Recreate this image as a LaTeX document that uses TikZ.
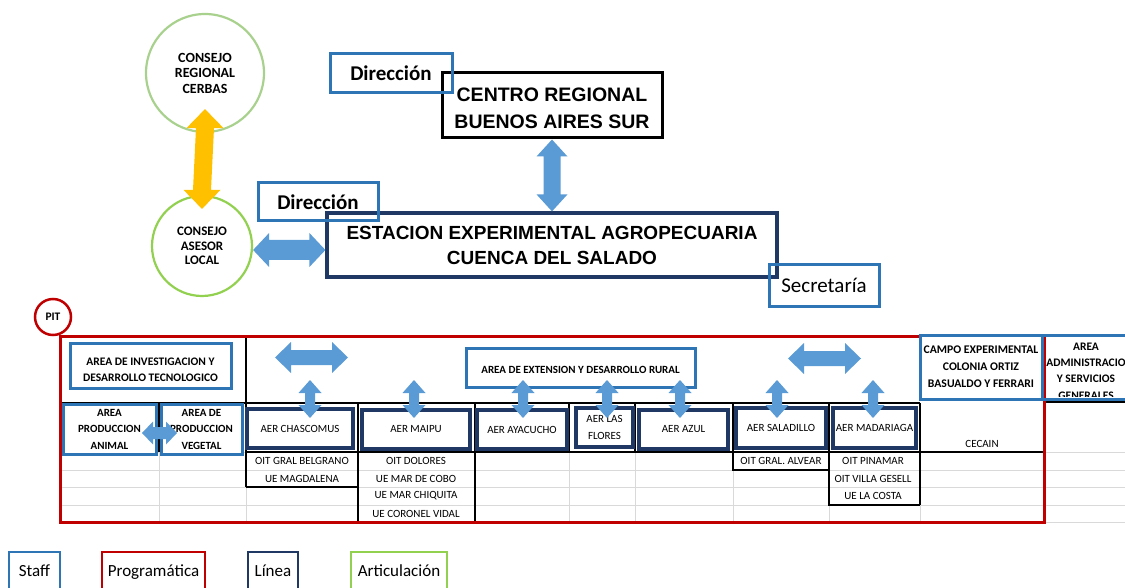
\documentclass[tikz,border=0pt]{standalone}
\usepackage{fontspec}
\setmainfont{Carlito}
\newfontfamily\arialf{Liberation Sans}
\usetikzlibrary{calc,shadows}
\definecolor{staffblue}{HTML}{2E75B6}
\definecolor{progred}{HTML}{C00000}
\definecolor{linenavy}{HTML}{1F3864}
\definecolor{artgreen}{HTML}{92D050}
\definecolor{artgreenl}{HTML}{A9D18E}
\definecolor{arrblue}{HTML}{5B9BD5}
\definecolor{arryel}{HTML}{FFC000}
\definecolor{gridgray}{HTML}{D9D9D9}
\newcommand\myfs[2]{\fontsize{#1}{#2}\selectfont}
% horizontal double block arrow: style, from, to, head half-height, shaft half-height, head length
\newcommand\harrow[6]{\fill[#1] (#2) -- ++(#6,-#4) -- ++(0,#4-#5) -- ($(#3)+(-#6,-#5)$) -- ++(0,#5-#4) -- (#3) -- ++(-#6,#4) -- ++(0,#5-#4) -- ($(#2)+(#6,#5)$) -- ++(0,#4-#5) -- cycle;}
% vertical double block arrow: style, top, bottom, head half-width, shaft half-width, head length
\newcommand\varrow[6]{\fill[#1] (#2) -- ++(-#4,#6) -- ++(#4-#5,0) -- ($(#3)+(-#5,-#6)$) -- ++(#5-#4,0) -- (#3) -- ++(#4,-#6) -- ++(#5-#4,0) -- ($(#2)+(#5,#6)$) -- ++(#4-#5,0) -- cycle;}
\tikzset{
  staffbox/.style={draw=staffblue, line width=3pt, inner sep=0pt, align=center},
  linebox/.style={draw=linenavy, line width=3.2pt, inner sep=0pt, align=center, fill=white},
  artcircle/.style={circle, draw=artgreen, line width=2.2pt, inner sep=0pt, align=center, fill=white},
  celltext/.style={font=\myfs{11}{13}, inner sep=0pt},
  gridline/.style={draw=gridgray, line width=0.8pt},
  cellline/.style={draw=black, line width=1.1pt},
  navyshadow/.style={general shadow={fill=linenavy, shadow yshift=-2pt, shadow xshift=1pt}},
  legendbox/.style={font=\myfs{17}{20}, inner sep=0pt, text height=24pt, text depth=24pt, line width=2.5pt}
}
\begin{document}
\begin{tikzpicture}[x=1pt,y=-1pt]
\useasboundingbox (0,0) rectangle (1125,588);
\clip (0,0) rectangle (1125,588);

% ---------- upper part ----------
\node[artcircle, draw=artgreenl, minimum size=118pt, font=\bfseries\myfs{14}{15.5}] (cerbas) at (205,73) {CONSEJO\\REGIONAL\\CERBAS};
\node[artcircle, minimum size=100pt, font=\bfseries\myfs{13}{14.5}] (asesor) at (202,246) {CONSEJO\\ASESOR\\LOCAL};
\node[linebox, draw=black, line width=3pt, minimum width=220pt, minimum height=65pt] (centro) at (552,105.5) {};
\node[font=\arialf\bfseries\myfs{19.5}{27}, align=center, inner sep=0pt] (centrotxt) at (552,108.5) {CENTRO REGIONAL\\BUENOS AIRES SUR};
\node[linebox, minimum width=450pt, minimum height=64pt, font=\arialf\bfseries\myfs{19}{25}] (estacion) at (552,245) {ESTACION EXPERIMENTAL AGROPECUARIA\\CUENCA DEL SALADO};
\node[staffbox, minimum width=122pt, minimum height=39pt, font=\bfseries\myfs{21}{25}] (dir1) at (391,73.5) {Dirección};
\node[staffbox, minimum width=120pt, minimum height=38pt, font=\bfseries\myfs{21}{25}] (dir2) at (318,202) {Dirección};
\node[staffbox, minimum width=110pt, minimum height=41pt, font=\myfs{21}{25}] (secre) at (824,285.5) {Secretaría};

\coordinate (ya) at ($(cerbas.south)+(0,-24)$);
\coordinate (yb) at ($(asesor.north)+(0,14)$);
\varrow{arryel}{ya}{yb}{18.5}{9}{19}
\varrow{arrblue}{centro.south}{estacion.north}{15.5}{8.5}{17}
\coordinate (ha) at ($(asesor.east)+(0,4)$);
\coordinate (hb) at (ha -| estacion.west);
\harrow{arrblue}{ha}{hb}{17}{10}{16}

\node[circle, draw=progred, line width=2.5pt, minimum size=36pt, inner sep=0pt, font=\bfseries\myfs{11.5}{13}] (pit) at (53,317) {PIT};

% ---------- table grid ----------
\foreach \y in {470,487,505} \draw[gridline] (60,\y) -- (1125,\y);
\draw[gridline] (60,452) -- (246,452);
\draw[gridline] (1043,452) -- (1125,452);
\draw[gridline] (1043,522) -- (1125,522);
\draw[gridline] (159,452) -- (159,522);
\draw[gridline] (246,487) -- (246,522);
\draw[gridline] (569,452) -- (569,522);
\draw[gridline] (635,452) -- (635,522);
\draw[gridline] (733,470) -- (733,522);
\draw[gridline] (829,505) -- (829,522);
\draw[gridline] (920,505) -- (920,522);

\draw[cellline] (60,403) -- (920,403);
\draw[cellline] (1043,402) -- (1125,402);
\draw[cellline] (246,336) -- (246,487);
\draw[cellline] (159,403) -- (159,452);
\draw[cellline] (246,452) -- (1043,452);
\draw[cellline] (246,487) -- (358,487);
\draw[cellline] (358,403) -- (358,522);
\draw[cellline] (475,403) -- (475,522);
\draw[cellline] (569,403) -- (569,452);
\draw[cellline] (635,403) -- (635,452);
\draw[cellline] (733,403) -- (733,470) -- (829,470);
\draw[cellline] (829,403) -- (829,505) -- (920,505);
\draw[cellline] (920,403) -- (920,505);

\draw[progred, line width=3pt] (60,336) rectangle (1044,522);

% ---------- header boxes ----------
\node[staffbox, fill=white, minimum width=161pt, minimum height=45pt] (inv) at (150.5,365.5) {};
\node[font=\bfseries\myfs{11.5}{16}, align=center, inner sep=0pt] (invtxt) at (150.5,370) {AREA DE INVESTIGACION Y\\DESARROLLO TECNOLOGICO};
\node[staffbox, fill=white, minimum width=229pt, minimum height=39pt] (ext) at (580.5,367.5) {};
\node[font=\bfseries\myfs{11}{13}, inner sep=0pt] (exttxt) at (580.5,370) {AREA DE EXTENSION Y DESARROLLO RURAL};
\node[staffbox, fill=white, minimum width=122pt, minimum height=64pt, font=\bfseries\myfs{11.7}{17}] (campo) at (981,367) {CAMPO EXPERIMENTAL\\COLONIA ORTIZ\\BASUALDO Y FERRARI};
\begin{scope}
  \clip (1042,335) rectangle (1130,396);
  \node[font=\bfseries\myfs{11.5}{16.3}, align=center, inner sep=0pt] (admtxt) at (1086,371) {AREA\\ADMINISTRACIO\\Y SERVICIOS\\GENERALES};
\end{scope}
\draw[staffblue, line width=3pt] (1042,335) rectangle (1140,399);

\node[staffbox, fill=white, navyshadow, minimum width=93pt, minimum height=50pt, font=\bfseries\myfs{11}{16.5}] (animal) at (109.5,429) {AREA\\PRODUCCION\\ANIMAL};
\node[staffbox, fill=white, navyshadow, minimum width=81pt, minimum height=50pt, font=\bfseries\myfs{11}{16.5}] (vegetal) at (201.5,429) {AREA DE\\PRODUCCION\\VEGETAL};

% ---------- AER boxes ----------
\node[linebox, minimum width=106pt, minimum height=39pt, font=\myfs{11}{13}] (chas) at (300,428.5) {AER CHASCOMUS};
\node[linebox, minimum width=108pt, minimum height=39pt, font=\myfs{11}{13}] (maipu) at (416,429.5) {AER MAIPU};
\node[linebox, minimum width=90pt, minimum height=39pt, font=\myfs{11}{13}] (ayac) at (522,429.5) {AER AYACUCHO};
\node[linebox, minimum width=57pt, minimum height=39pt, font=\myfs{11}{17}] (flores) at (604.5,427.5) {AER LAS\\FLORES};
\node[linebox, minimum width=89pt, minimum height=39pt, font=\myfs{11}{13}] (azul) at (683.5,429.5) {AER AZUL};
\node[linebox, minimum width=90pt, minimum height=40pt, font=\myfs{11}{13}] (salad) at (781,428) {AER SALADILLO};
\node[linebox, minimum width=83pt, minimum height=40pt, font=\myfs{11}{13}] (madar) at (874.5,428) {AER MADARIAGA};

% ---------- cell texts ----------
\node[celltext] (c1) at (302,461) {OIT GRAL BELGRANO};
\node[celltext] (c2) at (302,478.5) {UE MAGDALENA};
\node[celltext] (c3) at (416,461) {OIT DOLORES};
\node[celltext] (c4) at (416,478.5) {UE MAR DE COBO};
\node[celltext] (c5) at (416,496) {UE MAR CHIQUITA};
\node[celltext] (c6) at (416,513.5) {UE CORONEL VIDAL};
\node[celltext] (c7) at (781,461) {OIT GRAL. ALVEAR};
\node[celltext] (c8) at (873,461) {OIT PINAMAR};
\node[celltext] (c9) at (873,478.5) {OIT VILLA GESELL};
\node[celltext] (c10) at (873,496) {UE LA COSTA};
\node[celltext] (c11) at (982,444) {CECAIN};

% ---------- table arrows ----------
\coordinate (t1a) at (275,357.5); \coordinate (t1b) at (348,357.5);
\harrow{arrblue}{t1a}{t1b}{15.5}{7.5}{16}
\coordinate (t2a) at (788,358.5); \coordinate (t2b) at (861,358.5);
\harrow{arrblue}{t2a}{t2b}{15.5}{7.5}{16}
\coordinate (pa) at (142,433); \coordinate (pb) at (177,433);
\harrow{arrblue}{pa}{pb}{11.5}{6}{11}
\foreach \x in {310,414,523,607,680,777,873} {
  \coordinate (va) at (\x,380); \coordinate (vb) at (\x,418);
  \varrow{arrblue}{va}{vb}{11.5}{5}{13}
}

% ---------- legend ----------
\node[legendbox, draw=staffblue, minimum width=51pt] (lstaff) at (34.5,576) {Staff};
\node[legendbox, draw=progred, minimum width=103pt] (lprog) at (153.5,576) {Programática};
\node[legendbox, draw=linenavy, minimum width=50pt] (llin) at (273,576) {Línea};
\node[legendbox, draw=artgreen, minimum width=96pt] (lart) at (399,576) {Articulación};
\end{tikzpicture}
\end{document}
